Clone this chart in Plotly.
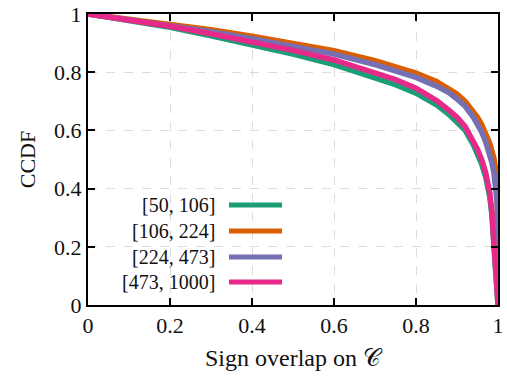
import plotly.graph_objects as go

x_vals = [0, 0.1, 0.2, 0.3, 0.4, 0.5, 0.6, 0.7, 0.75, 0.8, 0.85, 0.88, 0.9, 0.92, 0.94, 0.95, 0.96, 0.97, 0.98, 0.985, 0.99, 0.995, 0.998, 1.0]

series_names = ["[50, 106]", "[106, 224]", "[224, 473]", "[473, 1000]"]
colors = ["#1b9e77", "#d95f02", "#7570b3", "#e7298a"]

y_50_106 = [1, 0.977, 0.954, 0.925, 0.895, 0.862, 0.826, 0.782, 0.757, 0.728, 0.688, 0.655, 0.63, 0.60, 0.55, 0.52, 0.485, 0.44, 0.37, 0.31, 0.22, 0.10, 0.04, 0]
y_106_224 = [1, 0.983, 0.966, 0.946, 0.924, 0.90, 0.874, 0.84, 0.82, 0.797, 0.768, 0.745, 0.725, 0.70, 0.665, 0.645, 0.62, 0.59, 0.555, 0.53, 0.505, 0.46, 0.40, 0]
y_224_473 = [1, 0.981, 0.962, 0.939, 0.915, 0.89, 0.862, 0.826, 0.806, 0.782, 0.752, 0.73, 0.708, 0.683, 0.645, 0.62, 0.595, 0.56, 0.52, 0.49, 0.455, 0.405, 0.35, 0]
y_473_1000 = [1, 0.979, 0.958, 0.932, 0.905, 0.875, 0.842, 0.80, 0.775, 0.745, 0.703, 0.67, 0.645, 0.613, 0.565, 0.535, 0.50, 0.455, 0.385, 0.32, 0.21, 0.08, 0.03, 0]

series_values = [y_50_106, y_106_224, y_224_473, y_473_1000]

tick_vals = [0, 0.2, 0.4, 0.6, 0.8, 1]
tick_text = ["0", "0.2", "0.4", "0.6", "0.8", "1"]

FONT = "Liberation Serif"

fig = go.Figure()
for name, ys, c in zip(series_names, series_values, colors):
    fig.add_trace(go.Scatter(x=x_vals, y=ys, mode="lines", name=name,
                             line=dict(color=c, width=5.5),
                             showlegend=False))

# manual legend (text left, line sample right)
leg_y = [205, 231, 257, 282]
for name, c, py in zip(series_names, colors, leg_y):
    yp = 1 - (py - 14) / (305 - 14)
    fig.add_annotation(xref="x domain", yref="y domain", x=(217 - 88) / 410, y=yp,
                       text=name, showarrow=False, xanchor="right", yanchor="middle",
                       font=dict(family=FONT, size=20, color="#111"))
    fig.add_shape(type="line", xref="x domain", yref="y domain",
                  x0=(229 - 88) / 410, x1=(282 - 88) / 410, y0=yp, y1=yp,
                  line=dict(color=c, width=5))

axis_common = dict(showline=True, linecolor="black", linewidth=2, mirror="ticks",
                   ticks="inside", ticklen=7, tickwidth=2, tickcolor="black",
                   showgrid=True, gridcolor="#dcdcdc", griddash="dash", gridwidth=1,
                   zeroline=False, tickvals=tick_vals, ticktext=tick_text,
                   automargin=False, ticklabeloverflow="allow",
                   tickfont=dict(family=FONT, size=22, color="#111"))

fig.update_xaxes(range=[0, 1], title=dict(text="Sign overlap on 𝒞", font=dict(family=FONT, size=24, color="#111"), standoff=12), **axis_common)
fig.update_yaxes(range=[0, 1], title=dict(text="CCDF", font=dict(family=FONT, size=22, color="#111"), standoff=12), **axis_common)

fig.update_layout(width=507, height=383, margin=dict(l=88, r=9, t=14, b=78),
                  plot_bgcolor="white", paper_bgcolor="white")

fig.write_html("out.html", config={"displayModeBar": False},
               post_script="document.body.style.margin='0';")
